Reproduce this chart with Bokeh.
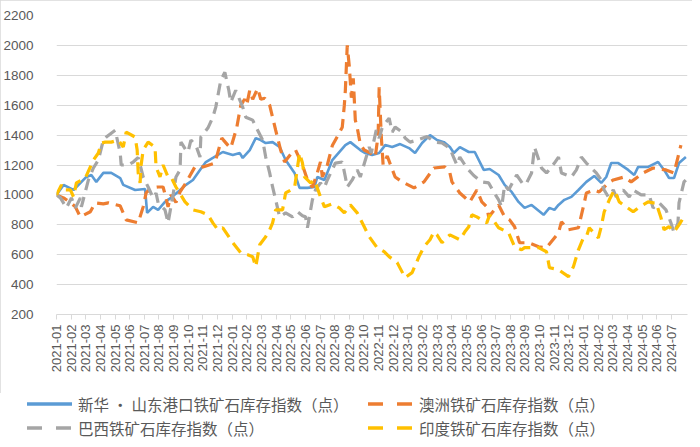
import math
from bokeh.plotting import figure
from bokeh.layouts import column
from bokeh.models import FixedTicker, Range1d, Div
from bokeh.embed import file_html
from bokeh.resources import INLINE

# ---- category tick labels (one per month) ----
month_labels = [
    "2021-01", "2021-02", "2021-03", "2021-04", "2021-05", "2021-06", "2021-07", "2021-08",
    "2021-09", "2021-10", "2021-11", "2021-12", "2022-01", "2022-02", "2022-03", "2022-04",
    "2022-05", "2022-06", "2022-07", "2022-08", "2022-09", "2022-10", "2022-11", "2022-12",
    "2023-01", "2023-02", "2023-03", "2023-04", "2023-05", "2023-06", "2023-07", "2023-08",
    "2023-09", "2023-10", "2023-11", "2023-12", "2024-01", "2024-02", "2024-03", "2024-04",
    "2024-05", "2024-06", "2024-07",
]

# ---- series: x = months elapsed since 2021-01, y = index (points) ----
shandong_m = [0.00, 0.48, 1.16, 2.04, 2.38, 2.72, 3.20, 3.74, 4.35, 4.56, 5.37, 6.05, 6.19, 6.60, 6.94,
              7.41, 7.82, 8.44, 8.84, 9.32, 9.80, 10.20, 10.68, 11.36, 12.04, 12.52, 12.72, 13.20, 13.61,
              13.95, 14.29, 14.76, 15.24, 15.65, 16.26, 16.60, 17.14, 17.62, 17.82, 18.30, 18.84, 19.73,
              20.07, 20.75, 21.09, 21.56, 22.04, 22.45, 22.93, 23.47, 24.08, 24.49, 24.97, 25.51, 25.99,
              26.46, 26.87, 27.14, 27.55, 28.16, 28.57, 29.18, 29.59, 30.20, 30.61, 31.09, 31.56, 31.97,
              32.45, 33.27, 33.67, 34.01, 34.29, 34.69, 35.17, 35.65, 36.19, 36.73, 37.21, 37.55, 37.89,
              38.37, 39.05, 39.46, 39.73, 40.41, 41.09, 41.50, 41.84, 42.18, 42.52, 42.99]
shandong_v = [1000, 1067, 1033, 1120, 1133, 1087, 1147, 1147, 1113, 1067, 1033, 1040, 880, 920, 900,
              953, 980, 1033, 1067, 1100, 1167, 1220, 1247, 1287, 1267, 1280, 1247, 1300, 1380,
              1367, 1347, 1353, 1320, 1233, 1147, 1047, 1047, 1053, 1120, 1100, 1233, 1333,
              1353, 1300, 1280, 1267, 1280, 1333, 1320, 1340, 1313, 1280, 1347, 1400, 1367,
              1353, 1320, 1280, 1320, 1287, 1287, 1167, 1173, 1133, 1067, 1020, 953, 913,
              933, 867, 913, 900, 933, 967, 987, 1033, 1087, 1127, 1080, 1120, 1213,
              1213, 1167, 1133, 1187, 1187, 1220, 1167, 1113, 1113, 1213, 1253]

australia_m = [0.00, 0.48, 0.95, 1.29, 1.63, 2.31, 2.65, 3.20, 3.54, 4.01, 4.35, 4.76, 5.58, 5.92, 6.12,
               6.46, 6.94, 7.28, 7.48, 7.62, 7.82, 8.16, 8.44, 8.84, 9.45, 10.00, 10.82, 11.29, 11.70,
               11.90, 12.31, 12.59, 12.86, 12.99, 13.20, 13.40, 13.74, 13.95, 14.22, 14.56, 14.97, 15.31,
               15.58, 16.12, 16.33, 16.80, 17.14, 17.48, 17.82, 18.03, 18.16, 18.50, 18.84, 19.18, 19.52,
               19.66, 19.73, 19.86, 20.00, 20.14, 20.27, 20.41, 20.54, 20.75, 21.02, 21.43, 21.77, 21.97,
               22.04, 22.11, 22.18, 22.31, 22.59, 23.13, 23.61, 24.42, 25.10, 25.78, 26.53, 26.87, 27.01,
               27.55, 28.23, 28.71, 29.05, 29.39, 29.52, 30.20, 30.61, 30.95, 31.29, 31.63, 32.24, 32.93,
               33.47, 34.29, 34.49, 34.97, 35.65, 36.05, 36.19, 36.73, 37.07, 37.69, 38.03, 38.78, 39.25,
               40.07, 40.75, 41.63, 42.18, 42.45, 42.65]
australia_v = [1000, 980, 950, 920, 853, 887, 947, 940, 947, 935, 927, 833, 813, 920, 1013,
               1047, 1053, 1053, 980, 920, 1000, 950, 1020, 1080, 1187, 1187, 1213, 1380, 1333,
               1313, 1450, 1600, 1640, 1600, 1700, 1640, 1713, 1640, 1647, 1600, 1433, 1300,
               1220, 1287, 1300, 1200, 1100, 1050, 1150, 1220, 1120, 1200, 1330, 1390, 1453,
               1600, 1700, 2000, 1860, 1650, 1780, 1500, 1450, 1340, 1300, 1280, 1253, 1400,
               1720, 1560, 1400, 1200, 1260, 1120, 1087, 1047, 1087, 1180, 1187, 1147, 1087,
               1013, 953, 1033, 953, 920, 853, 933, 853, 833, 787, 680, 680, 653,
               647, 747, 820, 767, 780, 947, 1013, 1033, 1020, 1080, 1100, 1120, 1087,
               1147, 1180, 1167, 1147, 1253, 1333]

brazil_m = [0.00, 0.27, 0.68, 1.02, 1.29, 1.63, 1.70, 2.18, 2.52, 2.86, 3.20, 3.40, 3.74, 4.01, 4.35,
            4.42, 4.90, 5.24, 5.58, 5.92, 6.26, 6.60, 6.80, 6.94, 7.41, 7.62, 7.96, 8.16, 8.44, 8.50,
            8.84, 8.98, 9.18, 9.52, 9.80, 9.86, 10.34, 10.68, 10.88, 11.22, 11.50, 11.77, 11.90, 12.24,
            12.72, 12.93, 13.40, 13.74, 14.08, 14.29, 14.56, 14.76, 14.97, 15.24, 15.65, 16.12, 16.46,
            16.80, 17.01, 17.14, 17.48, 17.69, 18.03, 18.30, 18.50, 19.05, 19.52, 19.73, 19.86, 20.20,
            20.54, 20.75, 21.36, 21.50, 21.84, 22.04, 22.24, 22.45, 22.72, 22.93, 23.13, 23.61, 23.81,
            24.15, 24.63, 25.31, 25.85, 26.33, 26.87, 27.14, 27.35, 27.55, 28.03, 28.50, 29.05, 29.52,
            29.86, 30.20, 30.41, 30.61, 30.88, 31.43, 31.90, 32.11, 32.45, 32.59, 32.65, 33.13, 33.47,
            34.01, 34.29, 34.49, 35.17, 35.51, 35.85, 36.19, 36.53, 36.87, 37.21, 37.41, 37.69, 38.03,
            38.23, 38.71, 39.12, 39.39, 39.93, 40.48, 40.75, 41.16, 41.63, 41.97, 42.18, 42.45, 42.52,
            42.86, 42.99]
brazil_v = [1000, 980, 913, 980, 913, 980, 920, 1100, 1180, 1233, 1367, 1387, 1413, 1433, 1280,
            1200, 1200, 1220, 1250, 1120, 1053, 980, 1013, 947, 900, 813, 1000, 1120, 1167, 1353,
            1300, 1287, 1367, 1333, 1253, 1387, 1447, 1520, 1587, 1767, 1820, 1700, 1620, 1700,
            1587, 1520, 1500, 1433, 1367, 1253, 1147, 1053, 967, 853, 880, 853, 887,
            860, 853, 780, 967, 1033, 1080, 1050, 1100, 1213, 1220, 1120, 1053, 1100,
            1167, 1120, 1320, 1280, 1433, 1380, 1447, 1480, 1513, 1420, 1453, 1420, 1380,
            1353, 1367, 1390, 1353, 1347, 1313, 1247, 1200, 1253, 1180, 1130, 1087, 1080,
            1020, 967, 920, 1067, 1033, 1133, 1067, 1080, 1147, 1267, 1320, 1180, 1147,
            1213, 1253, 1147, 1120, 1167, 1253, 1213, 1180, 1147, 1100, 1033, 987, 1033,
            987, 1033, 987, 1033, 1000, 1000, 913, 947, 900, 813, 747, 813, 947,
            1087, 1100]

india_m = [0.00, 0.34, 0.48, 0.95, 1.16, 1.36, 1.97, 2.31, 2.52, 2.86, 3.06, 3.33, 3.74, 4.22, 4.56,
           4.76, 5.37, 5.51, 5.58, 5.71, 5.78, 5.92, 6.26, 6.73, 6.80, 7.07, 7.28, 7.62, 7.82, 8.16,
           8.78, 9.32, 9.86, 10.34, 10.68, 11.02, 11.36, 12.04, 12.59, 13.06, 13.40, 13.61, 13.88, 14.29,
           14.56, 14.76, 14.97, 15.44, 15.65, 16.26, 16.60, 16.80, 16.94, 17.35, 17.62, 18.03, 18.30,
           18.84, 19.32, 19.66, 20.07, 20.54, 21.02, 21.36, 21.90, 22.38, 22.72, 23.27, 23.81, 24.29,
           24.76, 25.10, 25.51, 25.78, 25.99, 26.33, 26.87, 27.55, 27.89, 28.16, 28.37, 28.71, 29.39,
           29.59, 30.20, 30.88, 31.29, 31.77, 31.97, 32.93, 33.47, 33.67, 34.29, 34.97, 35.31, 35.65,
           35.99, 36.19, 36.39, 37.01, 37.21, 37.41, 37.76, 38.10, 38.44, 39.39, 39.73, 40.41, 40.75,
           40.95, 41.29, 41.50, 41.84, 42.18, 42.52, 42.86]
india_v = [1000, 1067, 1033, 1033, 987, 1080, 1113, 1187, 1233, 1280, 1347, 1353, 1353, 1367, 1320,
           1420, 1387, 1300, 1147, 1080, 1200, 1300, 1353, 1320, 1187, 1120, 1200, 1120, 1120, 1053,
           953, 900, 887, 867, 813, 767, 780, 680, 613, 600, 587, 520, 667, 720,
           767, 813, 900, 900, 1013, 1047, 1280, 1213, 1120, 1080, 1100, 987, 920,
           940, 913, 880, 933, 880, 787, 720, 647, 620, 587, 547, 447, 480,
           587, 653, 700, 753, 733, 680, 733, 700, 753, 787, 867, 853, 813,
           867, 780, 747, 653, 633, 647, 647, 620, 513, 500, 453, 520, 633,
           713, 720, 780, 713, 787, 887, 967, 1033, 953, 887, 913, 953, 947,
           947, 847, 767, 787, 753, 800, 853]

series_names = [
    "新华 • 山东港口铁矿石库存指数（点）",
    "澳洲铁矿石库存指数（点）",
    "巴西铁矿石库存指数（点）",
    "印度铁矿石库存指数（点）",
]
series_colors = ["#5B9BD5", "#ED7D31", "#A5A5A5", "#FFC000"]
series_dashes = ["solid", "12 7", "12 7", "12 7"]
series_widths = [2.6, 3.2, 3.2, 3.2]
y_ticks = [200, 400, 600, 800, 1000, 1200, 1400, 1600, 1800, 2000, 2200]

TEXT = "#595959"
GRID = "#D9D9D9"
NUM_FONT = "Liberation Sans"
CJK_FONT = "Noto Sans CJK SC"
W = 692

p = figure(width=W, height=393, output_backend="svg", toolbar_location=None,
           x_range=Range1d(0, 43.1), y_range=Range1d(200, 2200),
           min_border_left=53, min_border_right=5, min_border_top=15, min_border_bottom=79)
p.outline_line_color = None
p.background_fill_color = "white"
p.border_fill_color = "white"

all_m = [shandong_m, australia_m, brazil_m, india_m]
all_v = [shandong_v, australia_v, brazil_v, india_v]
for xs, ys, c, d, w in zip(all_m, all_v, series_colors, series_dashes, series_widths):
    p.line(xs, ys, line_color=c, line_width=w, line_dash=d)

# y axis
p.yaxis.ticker = FixedTicker(ticks=y_ticks)
p.yaxis.axis_line_color = None
p.yaxis.major_tick_line_color = None
p.yaxis.minor_tick_line_color = None
p.yaxis.major_label_text_font = NUM_FONT
p.yaxis.major_label_text_font_size = "13.5px"
p.yaxis.major_label_text_color = TEXT
p.yaxis.major_label_standoff = 17

# x axis
p.xaxis.ticker = FixedTicker(ticks=list(range(len(month_labels))))
p.xaxis.major_label_overrides = {i: lab for i, lab in enumerate(month_labels)}
p.xaxis.major_label_orientation = math.pi / 2
p.xaxis.axis_line_color = GRID
p.xaxis.major_tick_line_color = GRID
p.xaxis.major_tick_out = 5
p.xaxis.major_tick_in = 0
p.xaxis.minor_tick_line_color = None
p.xaxis.major_label_text_font = NUM_FONT
p.xaxis.major_label_text_font_size = "13px"
p.xaxis.major_label_text_color = TEXT
p.xaxis.major_label_standoff = 5

p.xgrid.grid_line_color = None
p.ygrid.grid_line_color = GRID
p.ygrid.ticker = FixedTicker(ticks=y_ticks)

# ---- legend strip (HTML block below the chart) ----
LEG_H = 46
leg_pos = [(27, 11), (368, 11), (27, 35), (368, 35)]   # (key left, row centre) in px
KEY_LEN = 45
KEY_GAP = 6
parts = []
for (kx, ky), name, c, d in zip(leg_pos, series_names, series_colors, series_dashes):
    dash_attr = "" if d == "solid" else ' stroke-dasharray="15 14"'
    parts.append(
        f'<div style="position:absolute;left:{kx}px;top:{ky - 10}px;height:20px;'
        f'display:flex;align-items:center;white-space:nowrap;">'
        f'<svg width="{KEY_LEN}" height="8" style="display:block;">'
        f'<line x1="0" y1="4" x2="{KEY_LEN}" y2="4" stroke="{c}" stroke-width="3.5"{dash_attr}/></svg>'
        f'<span style="margin-left:{KEY_GAP}px;font-family:\'{CJK_FONT}\';font-size:15.5px;'
        f'color:{TEXT};line-height:20px;">{name}</span></div>'
    )
html = (f'<div style="position:relative;width:{W}px;height:{LEG_H}px;background:white;">'
        + "".join(parts) + "</div>")
leg_div = Div(text=html, width=W, height=LEG_H, margin=0)

layout = column(p, leg_div, spacing=0)
layout.styles = {"outline": "1px solid #D9D9D9", "outline-offset": "-1px"}

open("out.html", "w").write(file_html(layout, INLINE))
